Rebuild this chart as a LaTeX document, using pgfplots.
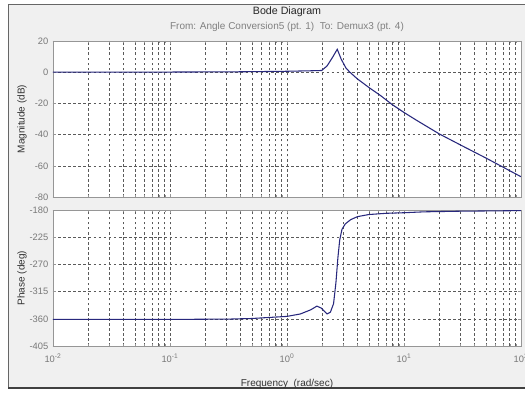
\documentclass[border=0pt]{standalone}
\usepackage{fontspec}
\setmainfont{Liberation Sans}
\usepackage{pgfplots}
\pgfplotsset{compat=1.18}
\definecolor{matbg}{RGB}{240,240,240}
\definecolor{linec}{RGB}{40,40,125}
\definecolor{axc}{RGB}{150,150,150}
\definecolor{tickc}{RGB}{120,120,120}
\definecolor{gridc}{RGB}{90,90,90}
\begin{document}
\begin{tikzpicture}[x=1pt,y=1pt]
\useasboundingbox (0,0) rectangle (393.75,295.5);
\fill[white] (0,0) rectangle (393.75,295.5);
\fill[matbg] (6,4.5) rectangle (393.75,292.5);
\draw[black!60,line width=0.6pt] (6,4.5) -- (6,292.5) -- (393.75,292.5);
\draw[black!75,line width=1.2pt] (6,4.5) -- (393.75,4.5);
\pgfplotsset{
  every axis/.append style={
    scale only axis, width=351pt, xmode=log, xmin=0.01, xmax=100,
    axis background/.style={fill=white},
    axis line style={axc, line width=0.6pt},
    tick style={axc}, major tick length=2.5pt, minor tick length=1.5pt,
    tick align=inside,
    ticklabel style={font=\fontsize{7}{8}\selectfont, text=tickc},
    xmajorgrids, xminorgrids, ymajorgrids,
    major grid style={gridc, dash pattern=on 2pt off 1.8pt, line width=0.4pt},
    minor grid style={gridc, dash pattern=on 2pt off 1.8pt, line width=0.4pt},
    label style={font=\fontsize{7.5}{9}\selectfont, text=black!80},
    clip=true,
  }
}
\begin{axis}[
  at={(39.75pt,147.75pt)}, anchor=south west, height=117pt,
  ymin=-80, ymax=20, ytick={-80,-60,-40,-20,0,20},
  yticklabels={-80,-60,-40,-20,0,20},
  xticklabels={},
  ylabel={Magnitude (dB)}, ylabel style={at={(axis description cs:-0.066,0.5)}, anchor=center},
]
\addplot[linec, line width=0.8pt] coordinates {
(0.01,0) (0.03,0) (0.1,0.1) (0.316,0.2) (0.6,0.4) (1,0.6) (1.585,0.9) (1.98,1.1)
(2.2,4) (2.45,9.5) (2.69,14.7) (2.9,8.5) (3.2,2.5) (3.45,0) (3.63,-1.5)
(3.98,-4.2) (4.47,-7) (5.01,-9.8) (6.31,-15) (7.94,-20.8) (10,-25.8) (12.6,-30.5) (15.85,-35)
(19.95,-39.5) (31.6,-47.3) (50.1,-55) (70.8,-61) (100,-67)
};
\end{axis}
\begin{axis}[
  at={(39.75pt,36pt)}, anchor=south west, height=102pt,
  ymin=-405, ymax=-180, ytick={-405,-360,-315,-270,-225,-180},
  yticklabels={-405,-360,-315,-270,-225,-180},
  xtick={0.01,0.1,1,10,100},
  xticklabels={10\textsuperscript{-2},10\textsuperscript{-1},10\textsuperscript{0},10\textsuperscript{1},10\textsuperscript{2}},
  xticklabel style={yshift=-2.5pt},
  ylabel={Phase (deg)}, ylabel style={at={(axis description cs:-0.066,0.5)}, anchor=center},
  xlabel={Frequency\ \ (rad/sec)}, xlabel style={at={(axis description cs:0.5,-0.28)}, anchor=center},
]
\addplot[linec, line width=0.8pt] coordinates {
(0.01,-361) (0.1,-361) (0.316,-360.5) (0.5,-359.5) (1,-356) (1.3,-352) (1.6,-345)
(1.8,-339) (1.95,-342) (2.2,-352) (2.35,-349) (2.5,-335) (2.62,-300) (2.72,-260)
(2.82,-230) (2.95,-212) (3.15,-203) (3.5,-196) (4,-191) (5,-187.5) (7,-185.5)
(10,-184.5) (15,-183) (30,-182) (100,-181)
};
\end{axis}
\node[font=\fontsize{8}{9}\selectfont, text=black!85] at (215.25,286.5) {Bode Diagram};
\node[font=\fontsize{7.5}{9}\selectfont, text=black!50] at (215.25,275.5) {From: Angle Conversion5 (pt. 1)\ \ To: Demux3 (pt. 4)};
\end{tikzpicture}
\end{document}
